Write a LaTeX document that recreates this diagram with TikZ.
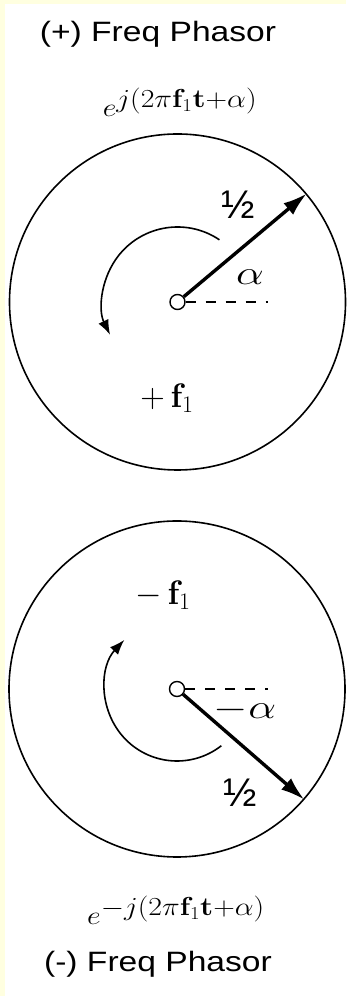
\RequirePackage{fix-cm}
\documentclass[tikz,border=0pt]{standalone}
\usepackage[no-math]{fontspec}
\setmainfont{Liberation Sans}
\usetikzlibrary{arrows.meta}
\definecolor{pagebg}{RGB}{255,255,224}

\begin{document}
\begin{tikzpicture}[
  x=1pt, y=1pt,
  rim/.style={draw, circle, line width=1.6pt, minimum size=336pt, inner sep=0pt},
  hub/.style={draw, circle, line width=1.4pt, minimum size=15pt, inner sep=0pt, fill=white},
  phasor/.style={-{Latex[length=24pt, width=15pt]}, line width=3.4pt},
  spin/.style={-{Latex[length=15pt, width=11pt]}, line width=1.6pt},
  refline/.style={dash pattern=on 10pt off 10pt, line width=1.6pt},
  title/.style={font=\fontsize{28}{32}\selectfont, inner sep=0pt, anchor=base},
  expo/.style={font=\fontsize{26}{30}\selectfont, inner sep=0pt, anchor=base},
  half/.style={font=\fontsize{40}{44}\selectfont, inner sep=0pt},
  lbl/.style={font=\fontsize{34}{38}\selectfont, inner sep=0pt}
]
  % page colour
  \useasboundingbox (0,0) rectangle (346,996);
  \fill[pagebg] (0,0) rectangle (346,996);
  \fill[white] (5,0) rectangle (346,992);

  % (+) frequency phasor
  \coordinate (pc) at (177.5,694);
  \coordinate (pref) at (268,694);
  \node[title] (ptitle) at (158,954) {\scalebox{1.2}[1]{(+) Freq Phasor}};
  \node[expo] (pexp) at (180,879) {\scalebox{1.15}[1]{$e^{\textstyle j(2\pi\mathbf{f}_1\mathbf{t}{+}\alpha)}$}};
  \node[rim] (prim) at (pc) {};
  \draw[refline] (pc) ++(8,0) -- (pref);
  \draw[spin] ([shift={(56:75)}]pc) arc[start angle=56, end angle=206, radius=75];
  \node[hub] (phub) at (pc) {};
  \draw[phasor] (phub.40) -- (prim.40);
  \node[half] (phalf) at (238,791) {½};
  \node[lbl] (palpha) at (250,719) {\scalebox{1.3}[1]{$\alpha$}};
  \node[lbl] (pfreq) at (167,598) {$+\,\mathbf{f}_1$};

  % (-) frequency phasor
  \coordinate (mc) at (177,307);
  \coordinate (mref) at (268,307);
  \node[rim] (mrim) at (mc) {};
  \draw[refline] (mc) ++(8,0) -- (mref);
  \draw[spin] ([shift={(-52:72)}]mc) arc[start angle=-52, end angle=-223, radius=72];
  \node[hub] (mhub) at (mc) {};
  \draw[phasor] (mhub.-41) -- (mrim.-41);
  \node[half] (mhalf) at (240,203) {½};
  \node[lbl] (malpha) at (245,286) {\scalebox{1.3}[1]{$-\alpha$}};
  \node[lbl] (mfreq) at (163,401) {$-\,\mathbf{f}_1$};
  \node[expo] (mexp) at (176,71) {\scalebox{1.15}[1]{$e^{\textstyle -j(2\pi\mathbf{f}_1\mathbf{t}{+}\alpha)}$}};
  \node[title] (mtitle) at (158,24) {\scalebox{1.2}[1]{(-) Freq Phasor}};
\end{tikzpicture}
\end{document}
